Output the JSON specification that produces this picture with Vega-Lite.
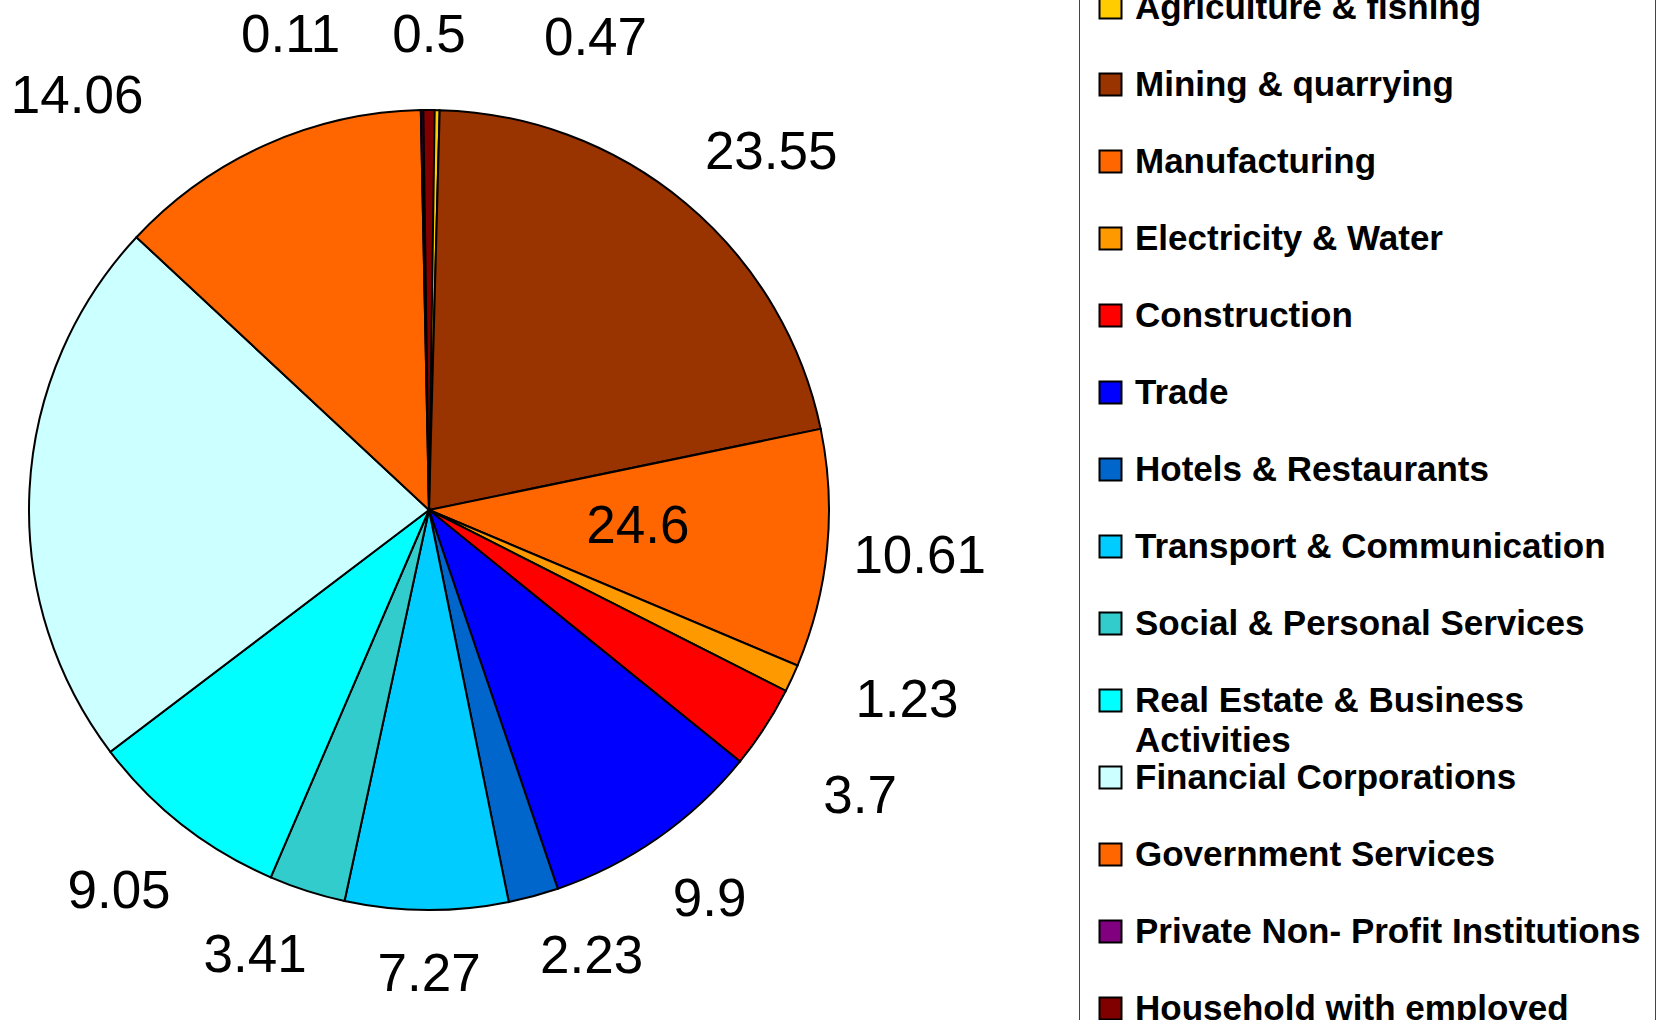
{
  "$schema": "https://vega.github.io/schema/vega-lite/v6.json",
  "autosize": {"type": "none"},
  "width": 858,
  "height": 1020,
  "padding": {"left": 0, "top": 0, "right": 807, "bottom": 0},
  "background": "white",
  "config": {"view": {"stroke": null}, "text": {"font": "Liberation Sans", "fontSize": 53, "color": "black", "align": "center", "baseline": "middle"}},
  "data": {
    "values": [
      {"sector": "Agriculture & fishing", "value": 0.47},
      {"sector": "Mining & quarrying", "value": 23.55},
      {"sector": "Manufacturing", "value": 10.61},
      {"sector": "Electricity & Water", "value": 1.23},
      {"sector": "Construction", "value": 3.7},
      {"sector": "Trade", "value": 9.9},
      {"sector": "Hotels & Restaurants", "value": 2.23},
      {"sector": "Transport & Communication", "value": 7.27},
      {"sector": "Social & Personal Services", "value": 3.41},
      {"sector": "Real Estate & Business Activities", "value": 9.05},
      {"sector": "Financial Corporations", "value": 24.6},
      {"sector": "Government Services", "value": 14.06},
      {"sector": "Private Non- Profit Institutions", "value": 0.11},
      {"sector": "Household with employed", "value": 0.5}
    ]
  },
  "transform": [
    {"window": [{"op": "sum", "field": "value", "as": "v1"}], "frame": [null, 0]},
    {"joinaggregate": [{"op": "sum", "field": "value", "as": "total"}]},
    {"calculate": "datum.v1 - datum.value", "as": "v0"},
    {"calculate": "datum.v1 - datum.value / 2", "as": "mid"},
    {"calculate": "datum.total - datum.mid", "as": "mirror"}
  ],
  "encoding": {
    "theta": {"field": "mid", "type": "quantitative", "stack": null},
    "text": {"field": "value", "type": "quantitative", "format": ".4~g"}
  },
  "layer": [
    {
      "mark": {"type": "arc", "outerRadius": 400, "stroke": "black", "strokeWidth": 2},
      "encoding": {
        "theta": {"field": "v0", "type": "quantitative", "scale": {"zero": true, "nice": false}},
        "theta2": {"field": "v1"},
        "text": null,
        "color": {
          "field": "sector",
          "type": "nominal",
          "scale": {
            "domain": ["Agriculture & fishing", "Mining & quarrying", "Manufacturing", "Electricity & Water", "Construction", "Trade", "Hotels & Restaurants", "Transport & Communication", "Social & Personal Services", "Real Estate & Business Activities", "Financial Corporations", "Government Services", "Private Non- Profit Institutions", "Household with employed"],
            "range": ["#FFCC00", "#993300", "#FF6600", "#FF9900", "#FF0000", "#0000FF", "#0066CC", "#00CCFF", "#33CCCC", "#00FFFF", "#CCFFFF", "#FF6600", "#800080", "#800000"]
          },
          "legend": {
            "orient": "none",
            "legendX": 1079,
            "legendY": -24,
            "title": null,
            "strokeColor": "#444444",
            "padding": 14,
            "gridAlign": "all",
            "symbolType": "square",
            "symbolSize": 484,
            "symbolStrokeColor": "black",
            "symbolStrokeWidth": 2,
            "symbolOpacity": 1,
            "labelFont": "Liberation Sans",
            "labelFontWeight": "bold",
            "labelFontSize": 35,
            "labelColor": "black",
            "labelLimit": 700,
            "labelOffset": 7,
            "rowPadding": 0,
            "labelExpr": "datum.label == 'Real Estate & Business Activities' ? ['Real Estate & Business', 'Activities'] : datum.label",
            "encode": {"labels": {"update": {"lineHeight": {"value": 40.7}}}}
          }
        }
      }
    },
    {
      "transform": [{"filter": "datum.sector == 'Agriculture & fishing'"}],
      "mark": {"type": "text", "radius": 485, "dx": 160, "dy": 14}
    },
    {
      "transform": [{"filter": "datum.sector == 'Mining & quarrying'"}],
      "mark": {"type": "text", "radius": 485, "dx": 31, "dy": 15}
    },
    {
      "transform": [{"filter": "datum.sector == 'Manufacturing'"}],
      "mark": {"type": "text", "radius": 485, "dx": 8}
    },
    {
      "transform": [{"filter": "datum.sector == 'Electricity & Water'"}],
      "mark": {"type": "text", "radius": 485, "dx": 38, "dy": -13}
    },
    {
      "transform": [{"filter": "datum.sector == 'Construction'"}],
      "mark": {"type": "text", "radius": 485, "dx": 24, "dy": 23}
    },
    {
      "transform": [{"filter": "datum.sector == 'Trade'"}],
      "mark": {"type": "text", "radius": 485, "dx": 3, "dy": -8}
    },
    {
      "transform": [{"filter": "datum.sector == 'Hotels & Restaurants'"}],
      "mark": {"type": "text", "radius": 485, "dx": 36, "dy": -21}
    },
    {
      "transform": [{"filter": "datum.sector == 'Transport & Communication'"}],
      "mark": {"type": "text", "radius": 485, "dx": 3, "dy": -20}
    },
    {
      "transform": [{"filter": "datum.sector == 'Social & Personal Services'"}],
      "mark": {"type": "text", "radius": 485, "dx": -26, "dy": -16}
    },
    {
      "transform": [{"filter": "datum.sector == 'Real Estate & Business Activities'"}],
      "mark": {"type": "text", "radius": 485, "dx": -11}
    },
    {
      "transform": [{"filter": "datum.sector == 'Government Services'"}],
      "mark": {"type": "text", "radius": 485, "dx": -154, "dy": 30}
    },
    {
      "transform": [{"filter": "datum.sector == 'Private Non- Profit Institutions'"}],
      "mark": {"type": "text", "radius": 485, "dx": -130, "dy": 11}
    },
    {
      "transform": [{"filter": "datum.sector == 'Household with employed'"}],
      "mark": {"type": "text", "radius": 485, "dx": 0, "dy": 11}
    },
    {
      "transform": [{"filter": "datum.sector == 'Financial Corporations'"}],
      "mark": {"type": "text", "radius": 209, "dy": 25},
      "encoding": {"theta": {"field": "mirror", "type": "quantitative", "stack": null}}
    }
  ]
}
